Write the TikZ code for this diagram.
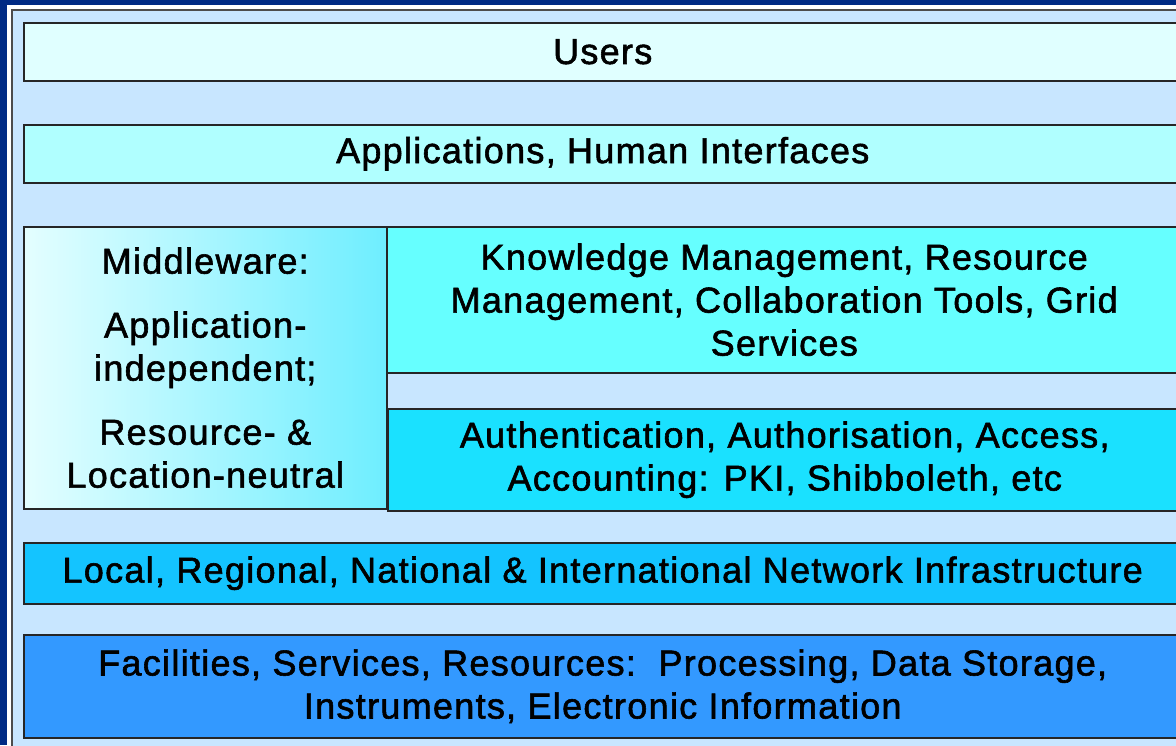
\documentclass[tikz,border=0pt]{standalone}
\usepackage{fontspec}
\setmainfont[LetterSpace=3.6, FakeBold=1.6]{Liberation Sans}
\definecolor{navy}{HTML}{002A84}
\definecolor{paleblue}{HTML}{C8E6FF}
\definecolor{userfill}{HTML}{E0FFFF}
\definecolor{appfill}{HTML}{B0FFFF}
\definecolor{midleft}{HTML}{E4FEFF}
\definecolor{midright}{HTML}{6EEEFF}
\definecolor{knowfill}{HTML}{66FFFF}
\definecolor{authfill}{HTML}{1AE1FF}
\definecolor{netfill}{HTML}{14C4FF}
\definecolor{facfill}{HTML}{3399FF}
\begin{document}
\begin{tikzpicture}[x=1pt, y=-1pt,
    layer/.style={draw=black!85, line width=1.5pt, inner sep=0pt, anchor=north west,
        align=center, font=\fontsize{36}{43}\selectfont}]
    % Background and frame
    \useasboundingbox (0,0) rectangle (1176,745);
    \fill[navy] (0,0) rectangle (1176,745);
    \fill[white] (7,5) rectangle (1200,760);
    \draw[black!70, line width=2pt, fill=paleblue] (12,10) rectangle (1195,760);

    % Layers from the top
    \node[layer, fill=userfill, minimum width=1158pt, minimum height=58pt] (users) at (23,22) {Users};
    \node[layer, fill=appfill, minimum width=1158pt, minimum height=58pt] (apps) at (23,124) {Applications, Human Interfaces};

    % Middleware block
    \node[layer, left color=midleft, right color=midright, minimum width=363pt, minimum height=282pt] (mid) at (23,226)
        {Middleware:\\[21pt] Application-\\ independent;\\[21pt] Resource- \&\\ Location-neutral};
    \node[layer, fill=knowfill, minimum width=795pt, minimum height=146pt] (know) at (386,226)
        {Knowledge Management, Resource\\ Management, Collaboration Tools, Grid\\ Services};
    \node[layer, fill=authfill, minimum width=794pt, minimum height=102pt] (auth) at (387,408)
        {Authentication, Authorisation, Access,\\ Accounting: PKI, Shibboleth, etc};

    % Lower layers
    \node[layer, fill=netfill, minimum width=1158pt, minimum height=61pt] (net) at (23,542)
        {Local, Regional, National \& International Network Infrastructure};
    \node[layer, fill=facfill, minimum width=1158pt, minimum height=103pt] (fac) at (23,634)
        {Facilities, Services, Resources:\ \ Processing, Data Storage,\\ Instruments, Electronic Information};
\end{tikzpicture}
\end{document}
